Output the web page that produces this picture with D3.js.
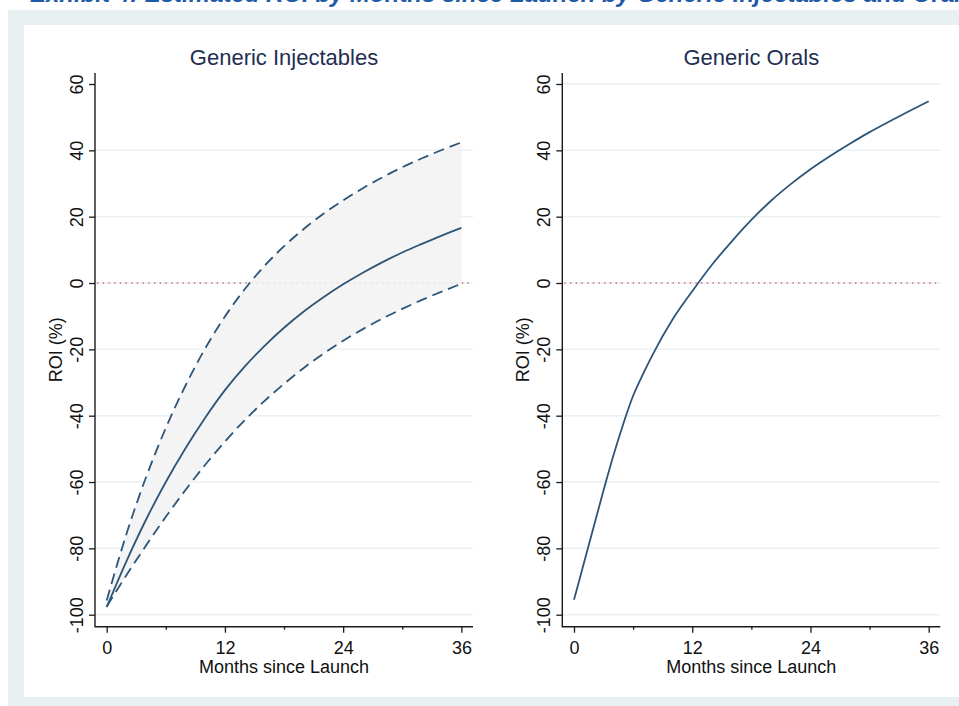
<!DOCTYPE html>
<html>
<head>
<meta charset="utf-8">
<script src="https://cdn.jsdelivr.net/npm/d3@7"></script>
<style>
  html, body { margin: 0; padding: 0; background: #ffffff; }
  svg { display: block; font-family: "Liberation Sans", Arial, sans-serif; }
</style>
</head>
<body>
<svg id="chart" width="959" height="706"></svg>
<script>
// ---------------- data ----------------
const pageTitle = "Exhibit 4: Estimated ROI by Months since Launch by Generic Injectables and Orals";
const panelTitles = ["Generic Injectables", "Generic Orals"];
const xTitle = "Months since Launch";
const yTitle = "ROI (%)";
const xMajorTicks = [0, 12, 24, 36];
const xMinorTicks = [6, 18, 30];
const yTicks = [-100, -80, -60, -40, -20, 0, 20, 40, 60];

// Generic Injectables (every 2 months)
const injMonths = [0, 2, 4, 6, 8, 10, 12, 14, 16, 18, 20, 22, 24, 26, 28, 30, 32, 34, 36];
const injROI    = [-97.7, -83.9, -71.3, -60.0, -49.8, -40.6, -32.3, -25.2, -19.0, -13.5, -8.6, -4.3, -0.4, 3.1, 6.3, 9.2, 11.8, 14.3, 16.6];
const injUpper  = [-95.7, -75.7, -58.5, -43.7, -30.9, -19.7, -10.1, -1.9, 5.1, 11.1, 16.3, 20.9, 24.9, 28.6, 31.9, 34.9, 37.6, 40.1, 42.4];
const injLower  = [-97.5, -88.1, -79.1, -70.5, -62.4, -54.8, -47.8, -41.4, -35.6, -30.4, -25.6, -21.3, -17.4, -13.9, -10.7, -7.8, -5.1, -2.6, -0.2];

// Generic Orals
const oralMonths = [0, 1, 2, 3, 4, 5, 6, 7, 8, 10, 12, 14, 16, 18, 20, 22, 24, 26, 28, 30, 32, 34, 36];
const oralROI    = [-95.5, -84.5, -73.5, -62.5, -52, -42.5, -34, -27.5, -21.5, -11, -2.5, 5.5, 12.5, 19, 24.8, 29.8, 34.3, 38.3, 42, 45.5, 48.7, 51.8, 54.8];

// ---------------- drawing ----------------
const svg = d3.select("#chart");
const LINE = "#2e5578";
const AXIS = "#1a1a1a";
const GRID = "#e9f1f3";
const FONT = "Liberation Sans, Arial, sans-serif";

// page background frame
svg.append("rect").attr("x", 8).attr("y", 10).attr("width", 951).attr("height", 696).attr("fill", "#e8f0f2");
svg.append("rect").attr("x", 24).attr("y", 25).attr("width", 935).attr("height", 672).attr("fill", "#ffffff");

// document title (cropped at the top of the page in the reference)
svg.append("text").attr("x", 30).attr("y", 2)
  .attr("font-size", 24).attr("font-weight", "bold").attr("font-style", "italic")
  .attr("fill", "#1f5aa6").text(pageTitle);

const panels = [
  { title: panelTitles[0], axisX: 95, grid: yTicks.filter(v => v !== 60),
    band: { months: injMonths, upper: injUpper, lower: injLower }, main: { months: injMonths, values: injROI } },
  { title: panelTitles[1], axisX: 562.3, grid: yTicks,
    band: null, main: { months: oralMonths, values: oralROI } }
];

const axisY = 626.7, topY = 73;
const fmt = d => String(d);

panels.forEach(p => {
  const g = svg.append("g");
  const left = p.axisX, right = p.axisX + 378;
  const x = d3.scaleLinear().domain([0, 36]).range([left + 11.7, left + 366.4]);
  const y = d3.scaleLinear().domain([-100, 60]).range([614.7, 84]);

  // gridlines
  g.append("g").selectAll("line").data(p.grid).join("line")
    .attr("x1", left).attr("x2", right)
    .attr("y1", d => y(d)).attr("y2", d => y(d))
    .attr("stroke", GRID).attr("stroke-width", 1.5);

  // zero reference line
  g.append("line").attr("x1", left + 2).attr("x2", right)
    .attr("y1", y(0)).attr("y2", y(0))
    .attr("stroke", "#d2647c").attr("stroke-width", 1.3)
    .attr("stroke-dasharray", "1.4,4.3");

  const curve = d3.curveMonotoneX;

  if (p.band) {
    const bd = p.band.months.map((m, i) => ({ m, lo: p.band.lower[i], hi: p.band.upper[i] }));
    g.append("path").datum(bd)
      .attr("d", d3.area().x(d => x(d.m)).y0(d => y(d.lo)).y1(d => y(d.hi)).curve(curve))
      .attr("fill", "#f2f2f2").attr("fill-opacity", 0.85);
    ["hi", "lo"].forEach(k => {
      g.append("path").datum(bd)
        .attr("d", d3.line().x(d => x(d.m)).y(d => y(d[k])).curve(curve))
        .attr("fill", "none").attr("stroke", LINE).attr("stroke-width", 1.8)
        .attr("stroke-dasharray", "11,6");
    });
  }

  const md = p.main.months.map((m, i) => ({ m, v: p.main.values[i] }));
  g.append("path").datum(md)
    .attr("d", d3.line().x(d => x(d.m)).y(d => y(d.v)).curve(curve))
    .attr("fill", "none").attr("stroke", LINE).attr("stroke-width", 1.8);

  // y axis
  const ya = g.append("g").attr("transform", `translate(${left},0)`)
    .call(d3.axisLeft(y).tickValues(yTicks).tickSize(6).tickSizeOuter(0).tickFormat(fmt));
  ya.select(".domain").remove();
  ya.selectAll(".tick line").attr("stroke", AXIS).attr("stroke-width", 1.3);
  ya.selectAll(".tick text")
    .attr("x", null).attr("dy", null).attr("y", null)
    .attr("transform", "translate(-12.5,0) rotate(-90)")
    .attr("text-anchor", "middle")
    .attr("font-size", 18).attr("font-family", FONT).attr("fill", "#111");

  // x axis
  const xa = g.append("g").attr("transform", `translate(0,${axisY})`)
    .call(d3.axisBottom(x).tickValues(xMajorTicks).tickSize(6).tickSizeOuter(0).tickPadding(9).tickFormat(fmt));
  xa.select(".domain").remove();
  xa.selectAll(".tick line").attr("stroke", AXIS).attr("stroke-width", 1.3);
  xa.selectAll(".tick text").attr("font-size", 18).attr("font-family", FONT).attr("fill", "#111");
  const xm = g.append("g").attr("transform", `translate(0,${axisY})`)
    .call(d3.axisBottom(x).tickValues(xMinorTicks).tickSize(3).tickSizeOuter(0).tickFormat(""));
  xm.select(".domain").remove();
  xm.selectAll(".tick line").attr("stroke", AXIS).attr("stroke-width", 1.3);

  // axis lines
  g.append("line").attr("x1", left).attr("x2", left).attr("y1", topY).attr("y2", axisY + 0.6)
    .attr("stroke", AXIS).attr("stroke-width", 1.4);
  g.append("line").attr("x1", left).attr("x2", right).attr("y1", axisY).attr("y2", axisY)
    .attr("stroke", AXIS).attr("stroke-width", 1.4);

  // titles
  const cx = (left + right) / 2;
  g.append("text").attr("x", cx).attr("y", 65).attr("text-anchor", "middle")
    .attr("font-size", 22).attr("fill", "#1e2f52").text(p.title);
  g.append("text").attr("x", cx).attr("y", 673).attr("text-anchor", "middle")
    .attr("font-size", 18).attr("fill", "#111").text(xTitle);
  g.append("text").attr("transform", `translate(${left - 33},${(topY + axisY) / 2}) rotate(-90)`)
    .attr("text-anchor", "middle").attr("font-size", 18).attr("fill", "#111").text(yTitle);
});
</script>
</body>
</html>
